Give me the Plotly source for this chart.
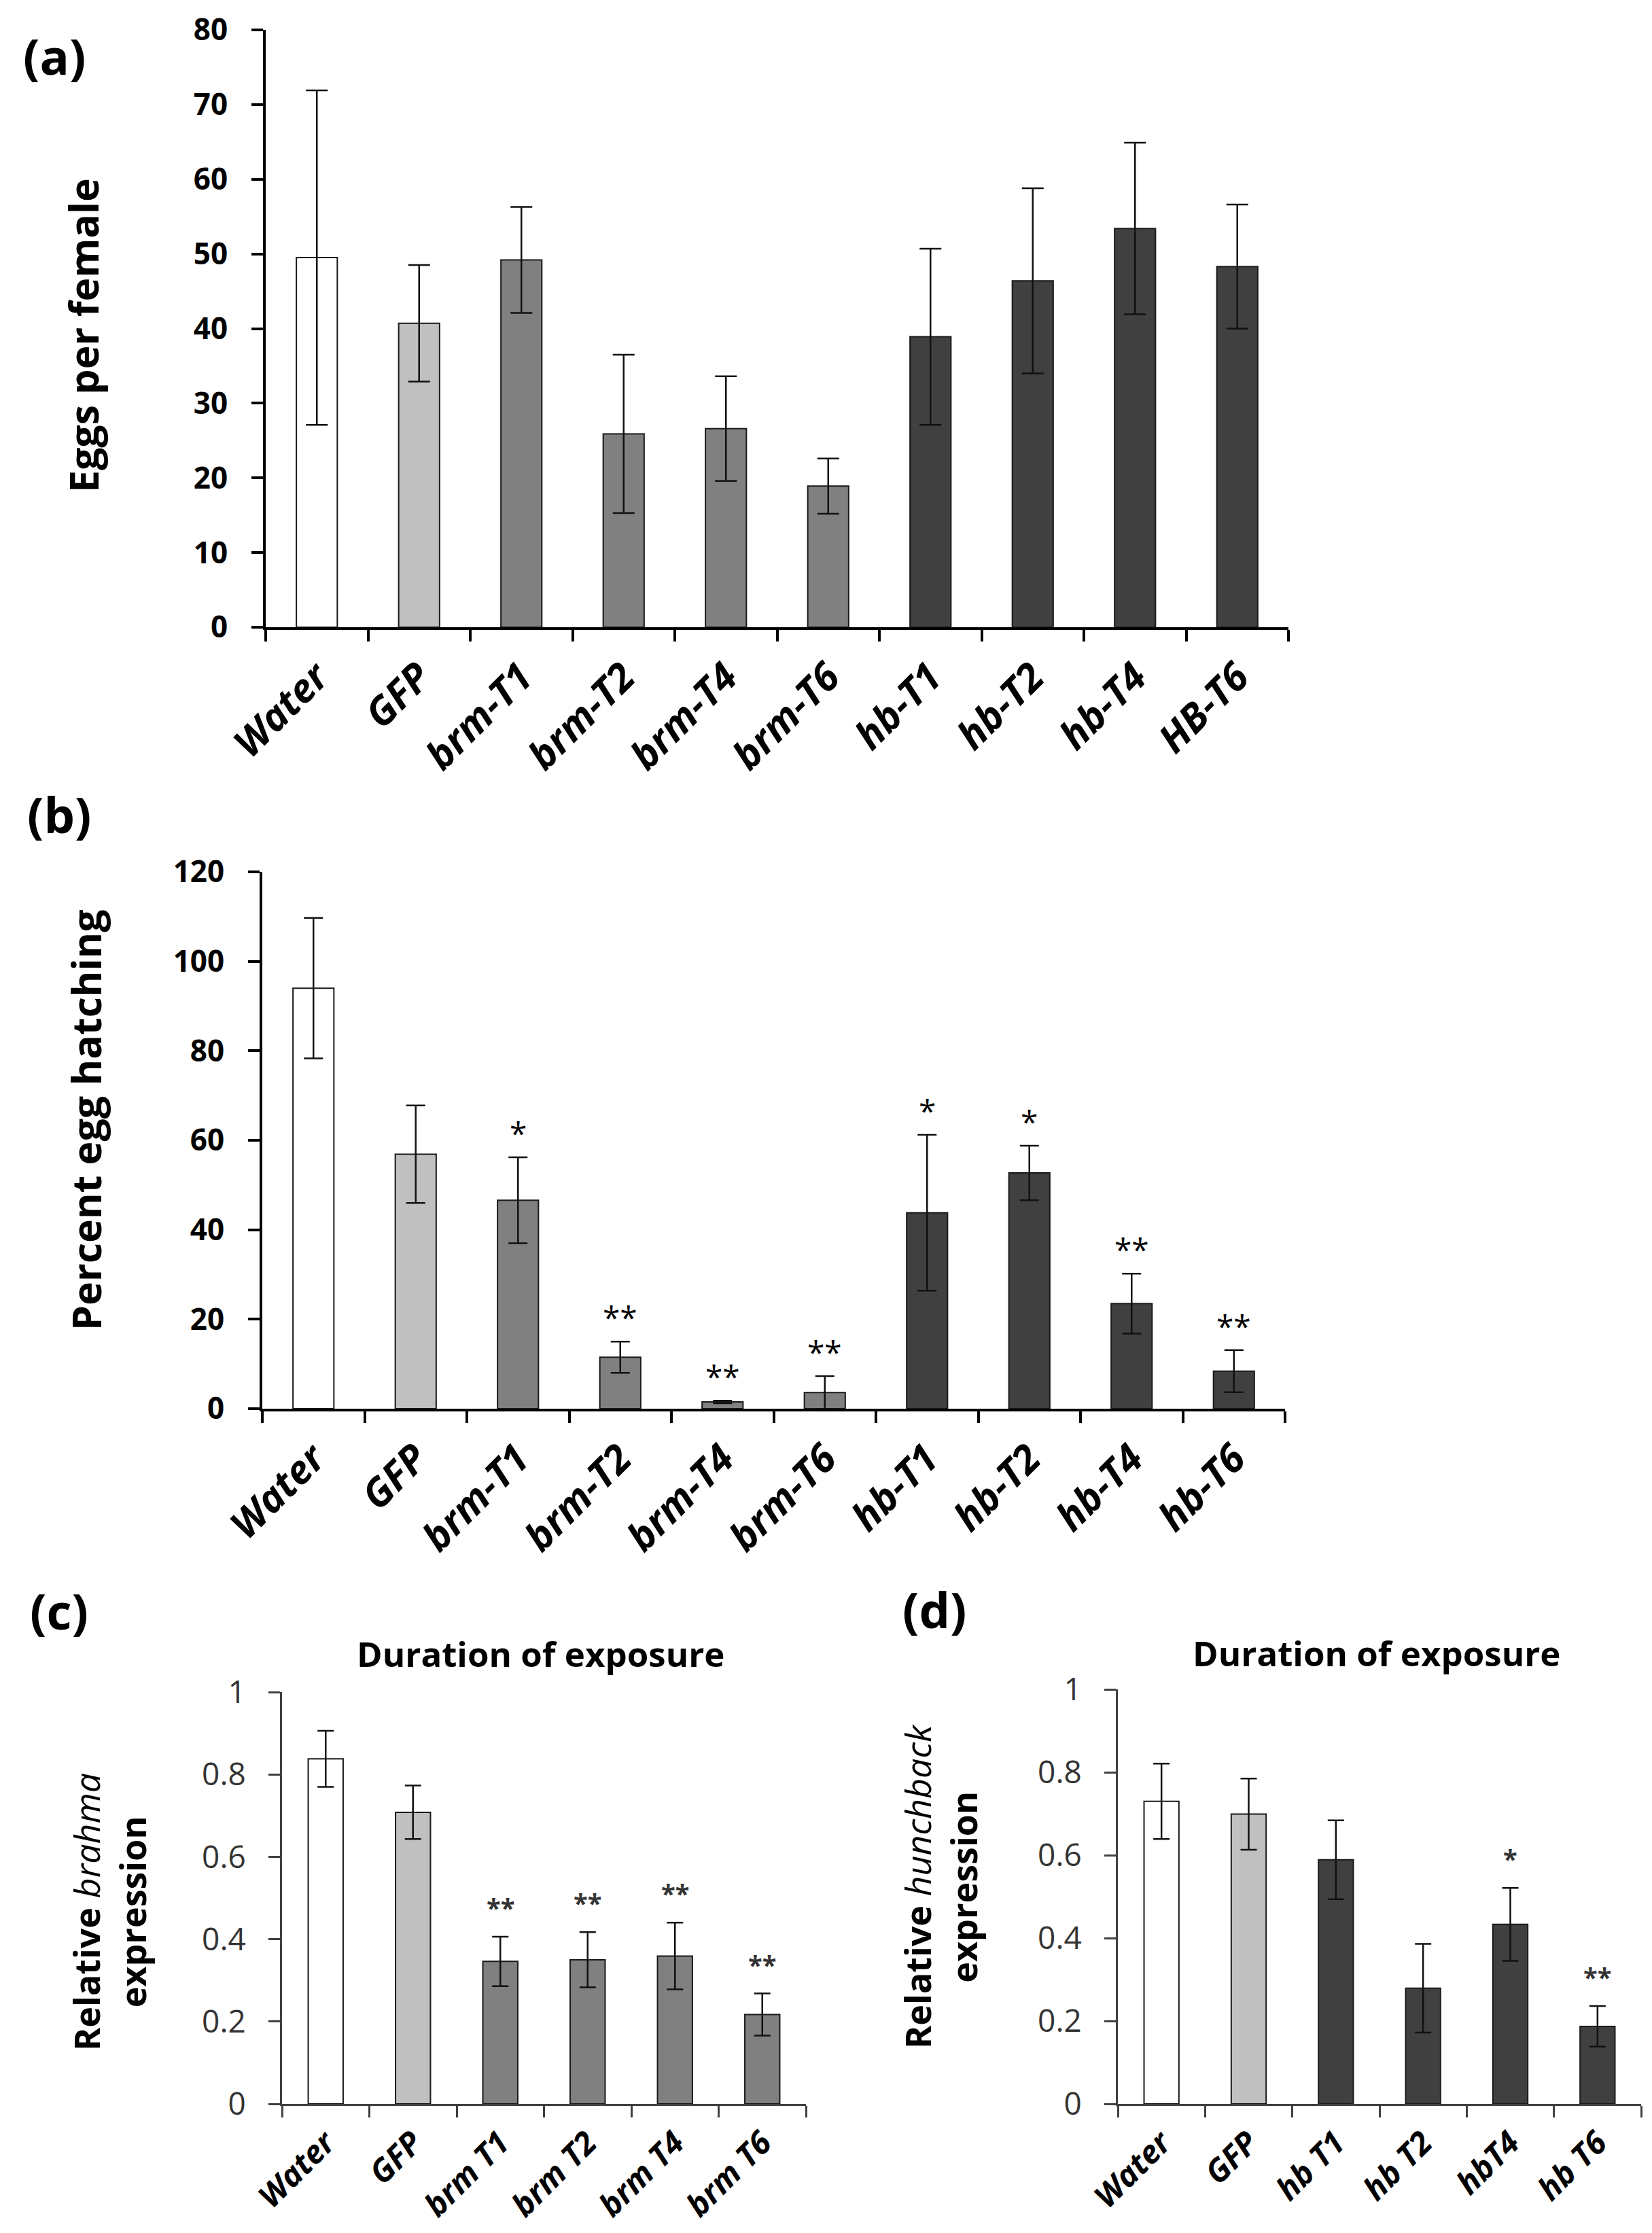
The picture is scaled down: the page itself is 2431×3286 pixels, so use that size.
import plotly.graph_objects as go

# panel (a) - eggs per female
cats_a = ["Water", "GFP", "brm-T1", "brm-T2", "brm-T4", "brm-T6", "hb-T1", "hb-T2", "hb-T4", "HB-T6"]
groups_a = ["water", "gfp", "brm", "brm", "brm", "brm", "hb", "hb", "hb", "hb"]
eggs = [49.5, 40.7, 49.2, 25.9, 26.6, 18.9, 38.9, 46.4, 53.4, 48.3]
eggs_se = [22.4, 7.8, 7.1, 10.6, 7.0, 3.7, 11.8, 12.4, 11.5, 8.3]

# panel (b) - percent egg hatching
cats_b = ["Water", "GFP", "brm-T1", "brm-T2", "brm-T4", "brm-T6", "hb-T1", "hb-T2", "hb-T4", "hb-T6"]
groups_b = groups_a
hatch = [94.0, 56.9, 46.6, 11.5, 1.5, 3.6, 43.8, 52.7, 23.5, 8.4]
hatch_se = [15.7, 10.9, 9.6, 3.5, 0.3, 3.7, 17.4, 6.1, 6.7, 4.7]
hatch_sig = ["", "", "*", "**", "**", "**", "*", "*", "**", "**"]

# panel (c) - relative brahma expression
cats_c = ["Water", "GFP", "brm T1", "brm T2", "brm T4", "brm T6"]
groups_c = ["water", "gfp", "brm", "brm", "brm", "brm"]
brm_expr = [0.838, 0.708, 0.346, 0.350, 0.359, 0.217]
brm_se = [0.068, 0.065, 0.060, 0.067, 0.081, 0.051]
brm_sig = ["", "", "**", "**", "**", "**"]

# panel (d) - relative hunchback expression
cats_d = ["Water", "GFP", "hb T1", "hb T2", "hbT4", "hb T6"]
groups_d = ["water", "gfp", "hb", "hb", "hb", "hb"]
hb_expr = [0.730, 0.699, 0.589, 0.279, 0.433, 0.187]
hb_se = [0.091, 0.086, 0.095, 0.107, 0.088, 0.049]
hb_sig = ["", "", "", "", "*", "**"]

fill = {"water": "#ffffff", "gfp": "#c0c0c0", "brm": "#808080", "hb": "#404040"}
FONT = "Open Sans"
W, H = 2431, 3286


def dom_x(a, b):
    return [a / W, b / W]


def dom_y(top, bottom):
    return [1 - bottom / H, 1 - top / H]


panels = [
    # cats, groups, vals, se, sig, x-domain px, y-domain px, ymax, dtick, capw
    (cats_a, groups_a, eggs, eggs_se, None, (383, 1888), (36, 915), 80, 10, 16),
    (cats_b, groups_b, hatch, hatch_se, hatch_sig, (378, 1883), (1275, 2065), 120, 20, 14),
    (cats_c, groups_c, brm_expr, brm_se, brm_sig, (407, 1178), (2482, 3088), 1, 0.2, 12),
    (cats_d, groups_d, hb_expr, hb_se, hb_sig, (1637, 2407), (2478, 3088), 1, 0.2, 12),
]

fig = go.Figure()
annotations = []

for i, (cats, groups, vals, se, sig, xd, yd, ymax, dt, capw) in enumerate(panels):
    n = i + 1
    xa = "x" if n == 1 else f"x{n}"
    ya = "y" if n == 1 else f"y{n}"
    big = n <= 2
    fig.add_trace(go.Bar(
        x=cats, y=vals, xaxis=xa, yaxis=ya,
        marker=dict(color=[fill[g] for g in groups], line=dict(color="#1a1a1a", width=2)),
        error_y=dict(type="data", array=se, visible=True, color="#111111",
                     thickness=2.5, width=capw),
        showlegend=False,
    ))
    lw = 4 if big else 3
    lc = "black" if big else "#404040"
    fig.layout[f"xaxis{'' if n == 1 else n}"] = dict(
        domain=dom_x(*xd), anchor=ya, type="category",
        range=[-0.5, len(cats) - 0.5],
        showline=True, linecolor=lc, linewidth=lw,
        ticks="outside", ticklen=17, tickwidth=lw, tickcolor=lc,
        tickson="boundaries", tickangle=-45, ticklabelstandoff=12 if big else 8,
        tickfont=dict(family=FONT, size=58 if big else 47, color="black",
                      weight="bold", style="italic"),
        showgrid=False, zeroline=False, fixedrange=True, automargin=False,
    )
    fig.layout[f"yaxis{'' if n == 1 else n}"] = dict(
        domain=dom_y(*yd), anchor=xa, range=[0, ymax], dtick=dt,
        showline=True, linecolor=lc, linewidth=lw,
        ticks="outside", ticklen=17, tickwidth=lw, tickcolor=lc,
        ticklabelstandoff=26 if big else 24,
        tickfont=dict(family=FONT, size=44 if big else 46,
                      color="black" if big else "#333333",
                      weight="bold" if big else "normal"),
        showgrid=False, zeroline=False, fixedrange=True, automargin=False,
    )
    if sig:
        for c, v, e, s in zip(cats, vals, se, sig):
            if s:
                annotations.append(dict(
                    x=c, y=v + e, xref=xa, yref=ya, text=s, showarrow=False,
                    yanchor="bottom", yshift=3 if big else 15,
                    font=dict(family=FONT, size=46 if big else 38,
                              color="black" if big else "#333333",
                              weight="normal" if big else "bold"),
                ))

# panel letters
for txt, x, y in [("(a)", 72, 74), ("(b)", 79, 1190), ("(c)", 79, 2362), ("(d)", 1367, 2360)]:
    annotations.append(dict(x=x / W, y=1 - y / H, xref="paper", yref="paper",
                            text=f"<b>{txt}</b>", showarrow=False,
                            xanchor="center", yanchor="middle",
                            font=dict(family=FONT, size=72, color="black")))

# y-axis titles
ytitles = [
    ("<b>Eggs per female</b>", 114, 486, 59),
    ("<b>Percent egg hatching</b>", 118, 1640, 59),
    ("<b>Relative </b><i>brahma</i><br><b>expression</b>", 152, 2806, 52),
    ("<b>Relative </b><i>hunchback</i><br><b>expression</b>", 1375, 2768, 52),
]
for txt, x, y, sz in ytitles:
    annotations.append(dict(x=x / W, y=1 - y / H, xref="paper", yref="paper",
                            text=txt, showarrow=False, textangle=-90,
                            xanchor="center", yanchor="middle",
                            font=dict(family=FONT, size=sz, color="black")))

# panel titles
for x, y in [(787, 2425), (2017, 2424)]:
    annotations.append(dict(x=x / W, y=1 - y / H, xref="paper", yref="paper",
                            text="<b>Duration of exposure</b>", showarrow=False,
                            xanchor="center", yanchor="middle",
                            font=dict(family=FONT, size=51, color="black")))

fig.update_layout(
    width=W, height=H,
    margin=dict(l=0, r=0, t=0, b=0, pad=0, autoexpand=False),
    paper_bgcolor="white", plot_bgcolor="white",
    bargap=0.6,
    annotations=annotations,
    font=dict(family=FONT),
)

fig.write_html("out.html")
